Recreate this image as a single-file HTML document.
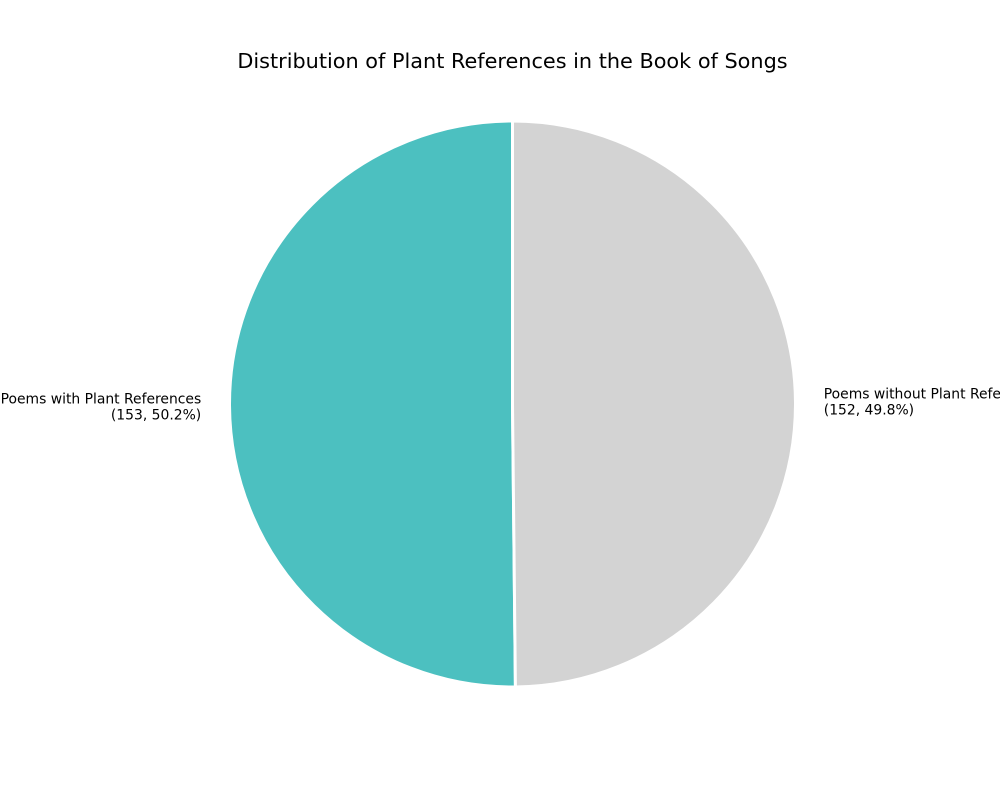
<!DOCTYPE html>
<html><head><meta charset="utf-8"><style>
body{margin:0;background:#fff;}
svg{display:block;font-family:"DejaVu Sans","Liberation Sans",sans-serif;}
</style></head><body>
<svg id="chart" width="1000" height="800" viewBox="0 0 1000 800">
<rect width="1000" height="800" fill="#fff"/>
<text x="512.5" y="68" text-anchor="middle" font-size="20.8" fill="#000">Distribution of Plant References in the Book of Songs</text>
<g id="slices"></g>
<g id="labels"></g>
</svg>
<script>
const categories = ["Poems with Plant References", "Poems without Plant References"];
const values = [153, 152];
const colors = ["#4cc0c0", "#d3d3d3"];

const cx = 512.5, cy = 404, r = 283, startAngle = 90;
const NS = "http://www.w3.org/2000/svg";
const total = values.reduce((a, b) => a + b, 0);
const sg = document.getElementById('slices');
const lg = document.getElementById('labels');
function pt(deg, rad) { const a = deg * Math.PI / 180; return [cx + rad * Math.cos(a), cy - rad * Math.sin(a)]; }
let ang = startAngle;
values.forEach((v, i) => {
  const sweep = v / total * 360;
  const a0 = ang, a1 = ang + sweep;
  const p0 = pt(a0, r), p1 = pt(a1, r);
  const large = sweep > 180 ? 1 : 0;
  const path = document.createElementNS(NS, 'path');
  path.setAttribute('d', `M${cx},${cy} L${p0[0]},${p0[1]} A${r},${r} 0 ${large} 0 ${p1[0]},${p1[1]} Z`);
  path.setAttribute('fill', colors[i]);
  path.setAttribute('stroke', '#fff');
  path.setAttribute('stroke-width', '3');
  path.setAttribute('stroke-linejoin', 'round');
  
  
  sg.appendChild(path);
  const mid = (a0 + a1) / 2;
  const lp = pt(mid, r * 1.1);
  const left = Math.cos(mid * Math.PI / 180) < 0;
  const t = document.createElementNS(NS, 'text');
  t.setAttribute('x', lp[0]);
  t.setAttribute('y', lp[1]);
  t.setAttribute('font-size', '13.9');
  t.setAttribute('text-anchor', left ? 'end' : 'start');
  
  
  const pct = (v / total * 100).toFixed(1);
  const l1 = document.createElementNS(NS, 'tspan');
  l1.setAttribute('x', lp[0]); l1.setAttribute('dy', left ? '-2' : '-4');
  l1.textContent = categories[i];
  const l2 = document.createElementNS(NS, 'tspan');
  l2.setAttribute('x', lp[0]); l2.setAttribute('dy', '16');
  l2.textContent = `(${v}, ${pct}%)`;
  t.appendChild(l1); t.appendChild(l2);
  lg.appendChild(t);
  ang = a1;
});
</script>
</body></html>
